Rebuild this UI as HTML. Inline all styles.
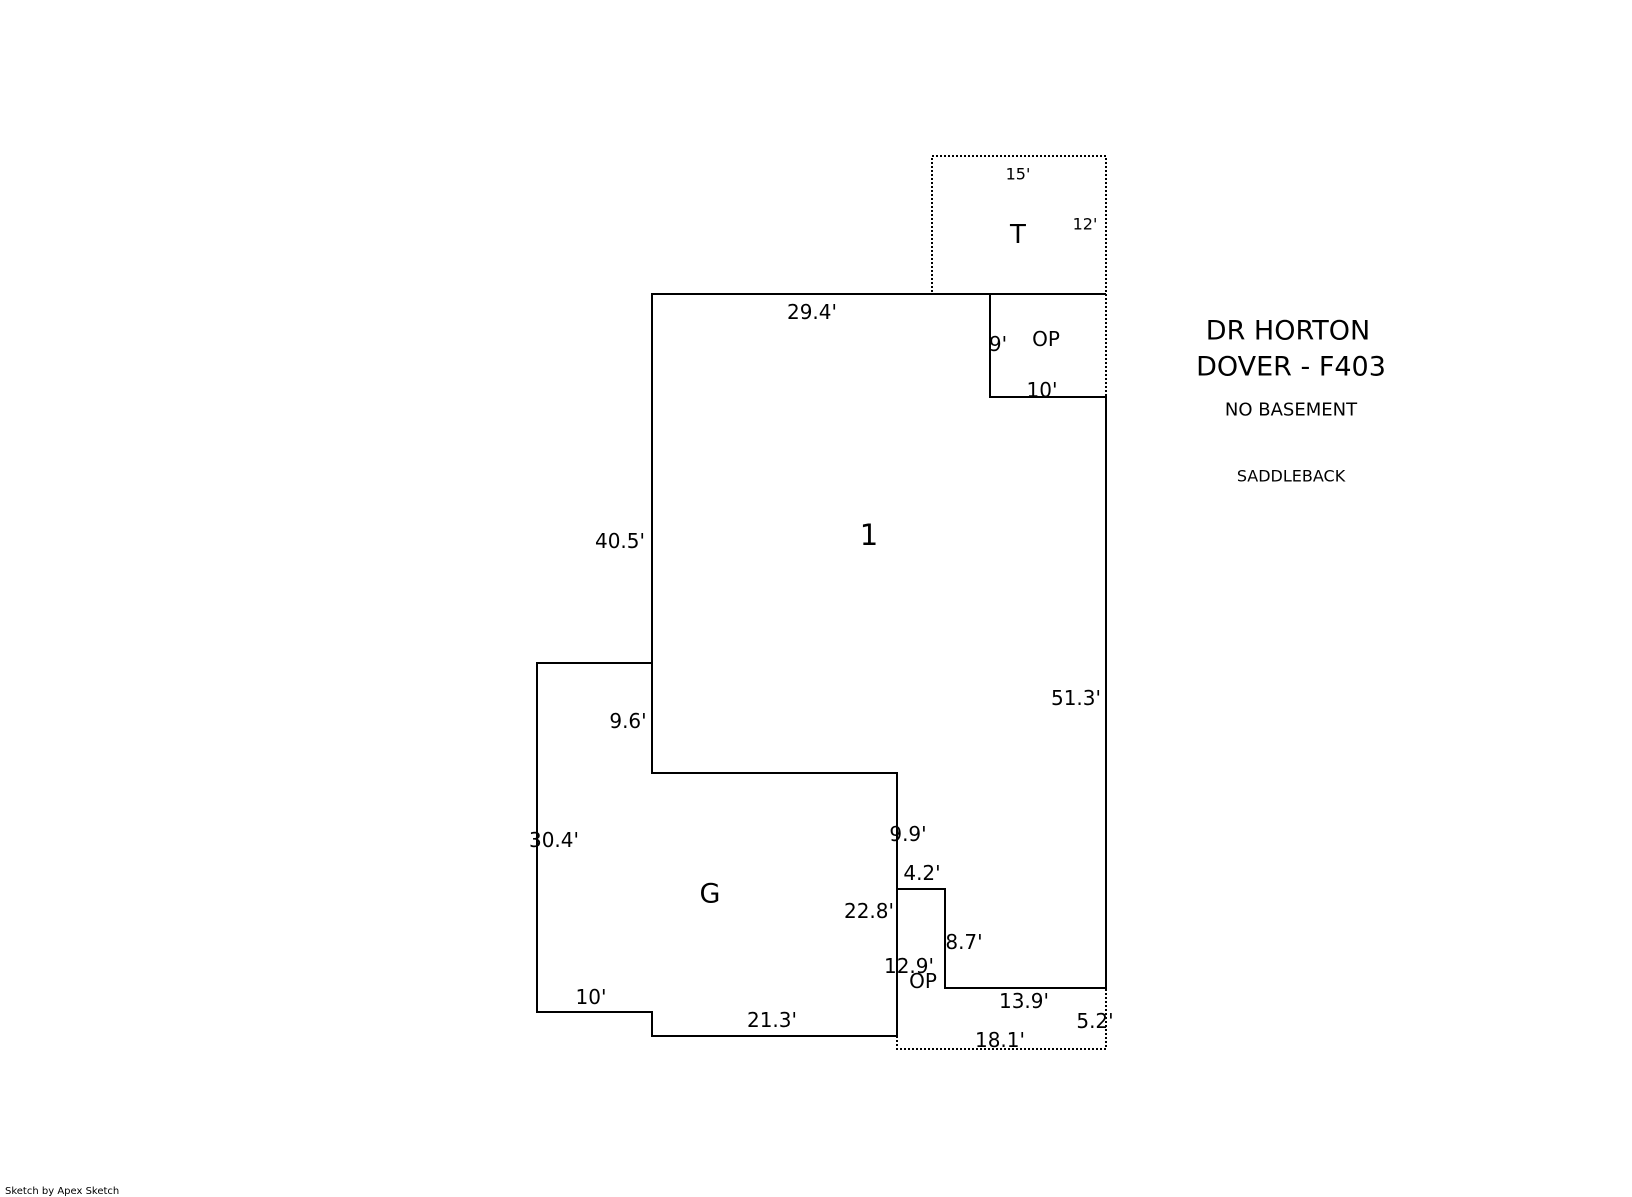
<!DOCTYPE html>
<html><head><style>
html,body{margin:0;padding:0;background:#fff;}
svg{display:block;}
text{font-family:"DejaVu Sans","Liberation Sans",sans-serif;fill:#000;}
</style></head><body>
<svg width="1632" height="1197" viewBox="0 0 1632 1197" xmlns="http://www.w3.org/2000/svg">
<g fill="none" stroke="#000" stroke-width="2" stroke-dasharray="2,2">
<rect x="932" y="156" width="174" height="138"/>
<polyline points="990,294 1106,294 1106,397"/>
<polyline points="897,1036 897,1049 1106,1049 1106,988"/>
</g>
<g fill="none" stroke="#000" stroke-width="2">
<polygon points="652,294 990,294 990,397 1106,397 1106,988 945,988 945,889 897,889 897,773 652,773"/>
<polyline points="652,663 537,663 537,1012 652,1012 652,1036 897,1036 897,773"/>
</g>
<g text-anchor="middle" dominant-baseline="central" font-size="20" transform="translate(-6,-3)">
<text x="1024" y="177" font-size="16">15'</text>
<text x="1024" y="238" font-size="26">T</text>
<text x="1091" y="227" font-size="16">12'</text>
<text x="818" y="315">29.4'</text>
<text x="1004" y="347">9'</text>
<text x="1052" y="342">OP</text>
<text x="1048" y="393">10'</text>
<text x="1294" y="334" font-size="27">DR HORTON</text>
<text x="1297" y="370" font-size="27">DOVER - F403</text>
<text x="1297" y="413" font-size="18">NO BASEMENT</text>
<text x="1297" y="479" font-size="16">SADDLEBACK</text>
<text x="626" y="544">40.5'</text>
<text x="875" y="538" font-size="29">1</text>
<text x="1082" y="701">51.3'</text>
<text x="634" y="724">9.6'</text>
<text x="560" y="843">30.4'</text>
<text x="914" y="837">9.9'</text>
<text x="928" y="876">4.2'</text>
<text x="716" y="897" font-size="27">G</text>
<text x="875" y="914">22.8'</text>
<text x="970" y="945">8.7'</text>
<text x="915" y="969">12.9'</text>
<text x="929" y="984">OP</text>
<text x="597" y="1000">10'</text>
<text x="1030" y="1004">13.9'</text>
<text x="1101" y="1024">5.2'</text>
<text x="778" y="1023">21.3'</text>
<text x="1006" y="1043">18.1'</text>
</g>
<text x="5" y="1194" font-size="10" font-family="Liberation Sans,sans-serif">Sketch by Apex Sketch</text>
</svg>
</body></html>
